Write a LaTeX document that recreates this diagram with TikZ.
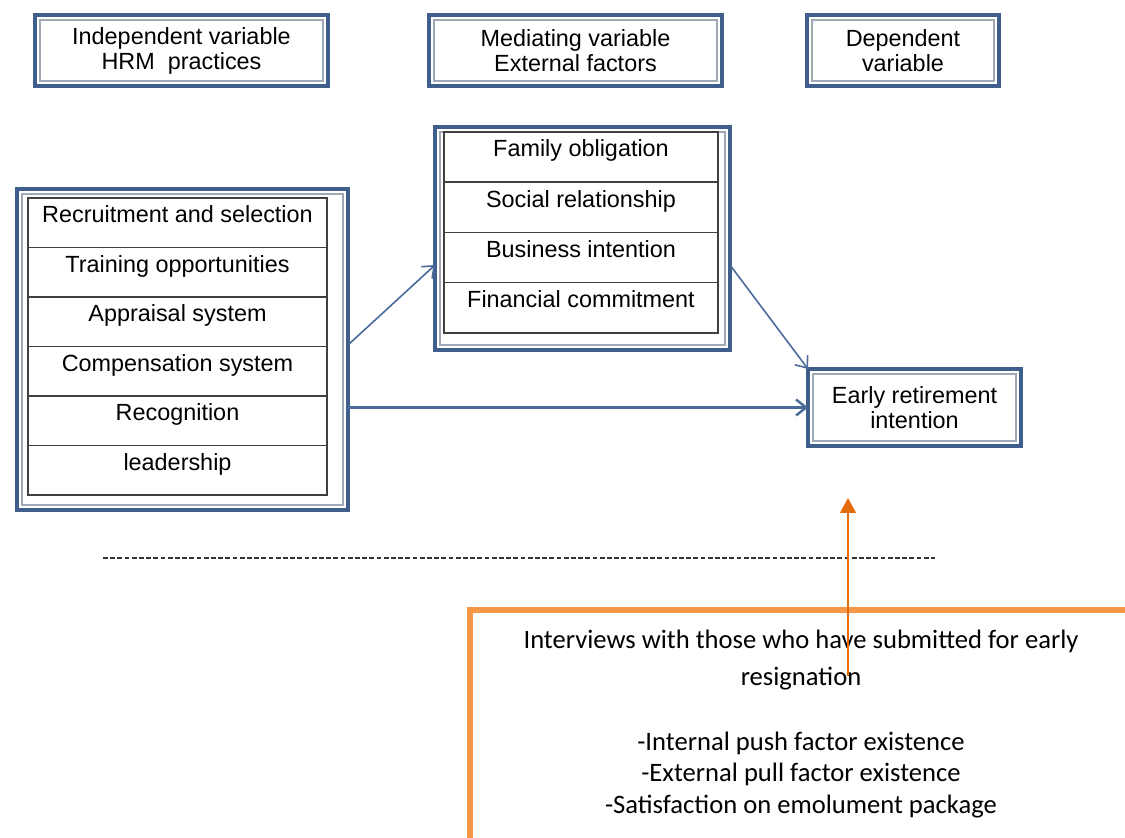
\documentclass[tikz,border=0pt]{standalone}
\usepackage{fontspec}
\setmainfont{Liberation Sans}
\newfontfamily\calibri{Carlito}
\usetikzlibrary{shapes,arrows.meta,fit,positioning}

\definecolor{frameblue}{HTML}{3F5E8C}
\definecolor{innerblue}{HTML}{A0A8B6}
\definecolor{arrowblue}{HTML}{4A6A9A}
\definecolor{cellgray}{HTML}{404040}
\definecolor{boxorange}{HTML}{F79646}
\definecolor{arroworange}{HTML}{E46C0A}

\newcommand{\boxfont}{\fontsize{11.7}{12.5}\selectfont}

\tikzset{
  varframe/.style={draw=frameblue, line width=2pt, inner sep=0pt, outer sep=0pt,
    path picture={\draw[innerblue, line width=0.8pt]
      ([shift={(2.4pt,-2.4pt)}]path picture bounding box.north west) rectangle
      ([shift={(-2.4pt,2.4pt)}]path picture bounding box.south east);}},
  headbox/.style={varframe, align=center, minimum height=35.5pt, font=\boxfont},
  hrmcell/.style={draw=cellgray, line width=0.75pt, outer sep=0pt, inner ysep=0pt,
    minimum width=149.5pt, text height=12.5pt, text depth=12.25pt, font=\boxfont},
  extcell/.style={hrmcell, minimum width=137pt, text depth=12.6pt},
  flow/.style={draw=arrowblue, line width=0.8pt, -{Straight Barb[length=5pt,width=8pt]}},
  orangebox/.style={draw=boxorange, line width=2.9pt, minimum width=331pt,
    minimum height=160pt, inner sep=0pt, outer sep=0pt},
  intvtext/.style={align=center, inner sep=0pt, outer sep=0pt,
    font=\calibri\fontsize{13.3}{15.75}\selectfont},
  pull/.style={draw=arroworange, line width=0.8pt, -{Triangle[length=7.5pt,width=8pt]}},
  sepline/.style={draw=black!80, line width=0.9pt, dash pattern=on 2.4pt off 1.2pt}
}

\begin{document}
\begin{tikzpicture}[x=0.5pt,y=-0.5pt]
\useasboundingbox (0,0) rectangle (1125,838);

% variable headings
\node[headbox, minimum width=146.5pt] (indep) at (181.5,50.5) {Independent variable\\HRM\ \ practices};
\node[headbox, minimum width=146.5pt] (med) at (575.5,50.5) {Mediating variable\\External factors};
\node[headbox, minimum width=96pt] (dep) at (903,50.5) {Dependent\\variable};

% HRM practices
\node[varframe, minimum width=165.5pt, minimum height=160.5pt] (hrm) at (182.5,349.5) {};
\node[hrmcell, anchor=north] (rec) at (177.5,198) {Recruitment and selection};
\node[hrmcell, below=0pt of rec] (train) {Training opportunities};
\node[hrmcell, below=0pt of train] (appr) {Appraisal system};
\node[hrmcell, below=0pt of appr] (comp) {Compensation system};
\node[hrmcell, below=0pt of comp] (recog) {Recognition};
\node[hrmcell, below=0pt of recog] (lead) {leadership};

% external factors
\node[varframe, minimum width=147.5pt, minimum height=111.5pt] (ext) at (582.5,238.5) {};
\node[extcell, anchor=north] (fam) at (581,132) {Family obligation};
\node[extcell, below=0pt of fam] (soc) {Social relationship};
\node[extcell, below=0pt of soc] (bus) {Business intention};
\node[extcell, below=0pt of bus] (fin) {Financial commitment};

% outcome
\node[headbox, minimum width=106.5pt, minimum height=38.5pt] (ret) at (914.5,407.5) {Early retirement\\intention};

\draw[flow] ([yshift=2.25pt]hrm.east) -- ([yshift=-13.25pt]ext.west);
\draw[flow] ([yshift=-13.25pt]ext.east) -- (ret.north west);
\draw[flow, line width=1.2pt] (ret.west -| hrm.east) -- (ret.west);

\draw[sepline] (103,558) -- (935,558);

% interviews
\node[orangebox, anchor=north west] (intvbox) at (470,610) {};
\node[intvtext, below=10pt of intvbox.north] (intv) {Interviews with those who have submitted for early\\[2.75pt]resignation\\[16.75pt]-Internal push factor existence\\-External pull factor existence\\-Satisfaction on emolument package};

\coordinate (tail) at (848,676);
\coordinate (tip) at (848,498);
\draw[pull] (tail) -- (tip);
\end{tikzpicture}
\end{document}
